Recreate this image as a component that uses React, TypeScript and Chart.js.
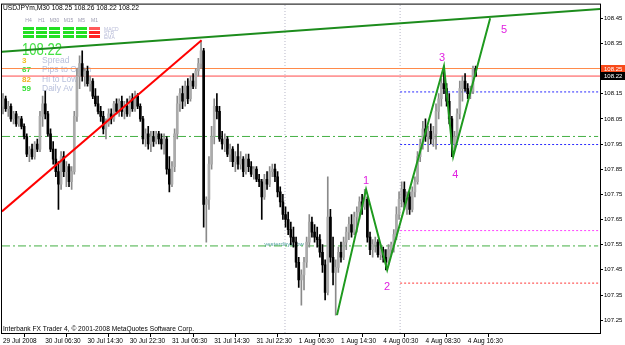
import { useEffect, useRef } from "react";
import { Chart, registerables } from "chart.js";
Chart.register(...registerables);

const symbolTitle = "USDJPYm,M30";
const copyright = "Interbank FX Trader 4, \u00a9 2001-2008 MetaQuotes Software Corp.";

const xTickIndex = [0, 16, 32, 48, 64, 80, 96, 112, 128, 144, 160, 176];
const xTickLabels = [
  "29 Jul 2008", "30 Jul 06:30", "30 Jul 14:30", "30 Jul 22:30", "31 Jul 06:30", "31 Jul 14:30",
  "31 Jul 22:30", "1 Aug 06:30", "1 Aug 14:30", "4 Aug 00:30", "4 Aug 08:30", "4 Aug 16:30",
];
const yTicks = [107.25, 107.35, 107.45, 107.55, 107.65, 107.75, 107.85, 107.95, 108.05, 108.15, 108.25, 108.35, 108.45];

const opens = [
  108.10,108.13,108.09,108.10,108.05,108.07,108.03,108.05,108.02,107.98,
  107.91,107.93,107.90,107.95,107.93,108.06,108.11,108.07,107.99,107.93,
  107.89,107.84,107.79,107.90,107.84,107.86,107.80,107.84,108.06,108.22,
  108.27,108.22,108.24,108.19,108.20,108.14,108.11,108.08,108.06,108.01,
  108.03,108.07,108.05,108.11,108.08,108.12,108.08,108.10,108.07,108.13,
  108.09,108.14,108.10,108.05,107.97,107.99,107.95,107.98,107.96,107.99,
  107.97,107.95,107.97,107.85,107.79,107.86,107.99,108.11,108.15,108.12,
  108.18,108.13,108.20,108.18,108.24,108.27,108.32,107.71,107.73,107.87,
  107.98,108.10,108.08,107.97,107.95,107.97,107.91,107.93,107.88,107.90,
  107.87,107.89,107.84,107.89,107.86,107.83,107.85,107.81,107.80,107.74,
  107.81,107.79,107.84,107.85,107.82,107.76,107.72,107.67,107.65,107.61,
  107.58,107.56,107.48,107.41,107.43,107.48,107.56,107.64,107.60,107.58,
  107.57,107.52,107.47,107.36,107.66,107.50,107.44,107.46,107.52,107.50,
  107.56,107.60,107.63,107.60,107.66,107.68,107.72,107.70,107.73,107.58,
  107.53,107.55,107.56,107.51,107.53,107.50,107.48,107.53,107.55,107.59,
  107.67,107.73,107.77,107.72,107.74,107.69,107.76,107.80,107.90,107.95,
  108.01,107.98,108.00,107.97,107.99,108.08,108.13,108.19,108.17,108.12,
  108.05,107.95,107.98,108.07,108.17,108.20,108.17,108.15,108.16,108.25,
];
const highs = [
  108.15,108.14,108.12,108.11,108.08,108.08,108.06,108.06,108.03,107.99,
  107.94,107.95,107.96,107.97,108.08,108.14,108.16,108.08,108.01,107.96,
  107.93,107.88,107.92,107.92,107.88,107.87,107.86,108.08,108.25,108.30,
  108.32,108.25,108.26,108.22,108.21,108.17,108.14,108.10,108.08,108.05,
  108.09,108.09,108.12,108.13,108.13,108.14,108.12,108.13,108.14,108.15,
  108.16,108.15,108.11,108.06,108.01,108.02,108.00,108.00,108.00,108.00,
  107.99,107.99,107.98,107.90,107.88,108.01,108.14,108.17,108.18,108.20,
  108.21,108.22,108.23,108.25,108.29,108.36,108.33,107.74,107.90,108.02,
  108.13,108.15,108.10,108.00,107.99,107.98,107.95,107.94,107.92,107.95,
  107.92,107.90,107.91,107.91,107.88,107.86,107.86,107.83,107.81,107.83,
  107.84,107.86,107.87,107.87,107.84,107.78,107.75,107.70,107.68,107.64,
  107.62,107.58,107.50,107.45,107.50,107.58,107.67,107.66,107.63,107.62,
  107.59,107.55,107.49,107.82,107.69,107.58,107.49,107.54,107.56,107.58,
  107.62,107.66,107.67,107.68,107.70,107.74,107.75,107.77,107.74,107.60,
  107.57,107.58,107.57,107.55,107.54,107.53,107.55,107.56,107.61,107.70,
  107.76,107.80,107.80,107.76,107.76,107.78,107.82,107.92,107.97,108.04,
  108.05,108.02,108.03,108.02,108.11,108.15,108.21,108.26,108.19,108.15,
  108.06,108.00,108.09,108.20,108.22,108.23,108.19,108.18,108.26,108.26,
];
const lows = [
  108.07,108.08,108.06,108.04,108.03,108.02,108.02,108.01,107.97,107.90,
  107.88,107.89,107.89,107.92,107.92,108.02,108.05,107.98,107.92,107.87,
  107.82,107.69,107.77,107.82,107.78,107.78,107.77,107.83,108.04,108.17,
  108.20,108.18,108.18,108.16,108.13,108.10,108.07,108.04,107.99,107.97,
  108.02,108.03,108.04,108.07,108.06,108.06,108.05,108.06,108.06,108.08,
  108.08,108.09,108.04,107.95,107.94,107.93,107.92,107.94,107.95,107.95,
  107.93,107.91,107.83,107.76,107.78,107.84,107.97,108.08,108.09,108.10,
  108.11,108.12,108.17,108.17,108.22,108.25,107.62,107.56,107.69,107.85,
  107.95,108.05,107.96,107.93,107.92,107.90,107.88,107.86,107.84,107.85,
  107.85,107.82,107.83,107.84,107.82,107.81,107.80,107.78,107.65,107.73,
  107.77,107.78,107.82,107.80,107.74,107.70,107.65,107.62,107.59,107.55,
  107.54,107.46,107.38,107.31,107.37,107.46,107.54,107.58,107.56,107.54,
  107.50,107.44,107.33,107.35,107.48,107.39,107.27,107.44,107.48,107.49,
  107.53,107.57,107.58,107.59,107.60,107.65,107.67,107.69,107.56,107.51,
  107.50,107.52,107.50,107.49,107.48,107.45,107.47,107.51,107.52,107.57,
  107.65,107.70,107.69,107.67,107.67,107.68,107.74,107.79,107.88,107.93,
  107.96,107.92,107.95,107.94,107.93,108.05,108.10,108.15,108.10,108.03,
  107.90,107.93,107.96,108.05,108.12,108.16,108.13,108.13,108.15,108.22,
];
const closes = [
  108.13,108.09,108.10,108.05,108.07,108.03,108.05,108.02,107.98,107.91,
  107.93,107.90,107.95,107.93,108.06,108.11,108.07,107.99,107.93,107.89,
  107.84,107.79,107.90,107.84,107.86,107.80,107.84,108.06,108.22,108.27,
  108.22,108.24,108.19,108.20,108.14,108.11,108.08,108.06,108.01,108.03,
  108.07,108.05,108.11,108.08,108.12,108.08,108.10,108.07,108.13,108.09,
  108.14,108.10,108.05,107.97,107.99,107.95,107.98,107.96,107.99,107.97,
  107.95,107.97,107.85,107.79,107.86,107.99,108.11,108.15,108.12,108.18,
  108.13,108.20,108.18,108.24,108.27,108.32,107.71,107.73,107.87,107.98,
  108.10,108.08,107.97,107.95,107.97,107.91,107.93,107.88,107.90,107.87,
  107.89,107.84,107.89,107.86,107.83,107.85,107.81,107.80,107.74,107.81,
  107.79,107.84,107.85,107.82,107.76,107.72,107.67,107.65,107.61,107.58,
  107.56,107.48,107.41,107.43,107.48,107.56,107.64,107.60,107.58,107.57,
  107.52,107.47,107.36,107.66,107.50,107.44,107.46,107.52,107.50,107.56,
  107.60,107.63,107.60,107.66,107.68,107.72,107.70,107.73,107.58,107.53,
  107.55,107.56,107.51,107.53,107.50,107.48,107.53,107.55,107.59,107.67,
  107.73,107.77,107.72,107.74,107.69,107.76,107.80,107.90,107.95,108.01,
  107.98,108.00,107.97,107.99,108.08,108.13,108.19,108.17,108.12,108.05,
  107.95,107.98,108.07,108.17,108.20,108.17,108.15,108.16,108.25,108.22,
];

const askPrice = 108.25;
const bidPrice = 108.22;

const zigzagIndex = [126.5, 137.5, 145.5, 167, 170.5, 184.5];
const zigzagPrice = [107.27, 107.77, 107.45, 108.26, 107.9, 108.45];
const zigzagLabels = ["1", "2", "3", "4", "5"];

const greenTrendIndex = [-0.4, 227];
const greenTrendPrice = [108.317, 108.487];
const redTrendIndex = [-0.4, 75.2];
const redTrendPrice = [107.682, 108.362];

const pivotLevels = [107.98, 107.545];
const blueLevels = [108.157, 107.948];
const magentaLevel = 107.606;
const salmonLevel = 107.397;
const levelStartIndex = 150.4;
const separatorIndex = [106.8, 150.4];
const pivotLabel = "yesterdays low";

const panelTimeframes = ["H4", "H1", "M30", "M15", "M5", "M1"];
const panelRows = ["MACD", "STR", "EMA"];
const panelSignals = [
  [1, 1, 1, 1, 1, 0],
  [1, 1, 1, 1, 1, 0],
  [1, 1, 1, 1, 1, 0],
];
const infoValues = ["3", "67", "82", "59"];
const infoLabels = ["Spread", "Pips to Open", "Hi to Low", "Daily Av"];

const Y_MIN = 107.199;
const Y_MAX = 108.504;
const X_MIN = -0.38;
const X_MAX = 226.1;
const FONT = '"Liberation Sans", Arial, sans-serif';

const mtPlugin = {
  id: "mtOverlay",
  beforeDatasetsDraw(chart: any) {
    const ctx = chart.ctx as CanvasRenderingContext2D;
    const xs = chart.scales.x;
    const ys = chart.scales.y;
    ctx.save();
    ctx.textBaseline = "alphabetic";
    ctx.textAlign = "left";
    ctx.fillStyle = "#000";
    ctx.font = `8px ${FONT}`;
    const last = closes.length - 1;
    const title = `${symbolTitle} ${opens[last].toFixed(2)} ${highs[last].toFixed(2)} ${lows[last].toFixed(2)} ${closes[last].toFixed(2)}`;
    ctx.fillText(title, 3, 10, 136);
    const colX = [23, 36, 49, 63, 76, 89];
    const rowY = [27, 31, 35];
    ctx.font = `5px ${FONT}`;
    ctx.fillStyle = "#9a9ab0";
    ctx.textAlign = "center";
    panelTimeframes.forEach((t, c) => ctx.fillText(t, colX[c] + 5.5, 22));
    panelRows.forEach((r, ri) => {
      panelSignals[ri].forEach((s, c) => {
        ctx.fillStyle = s ? "#22e022" : ri === 0 ? "#ff5a5a" : "#ff2222";
        ctx.fillRect(colX[c], rowY[ri], 11, 3);
      });
    });
    ctx.textAlign = "left";
    ctx.fillStyle = "#b8bcd8";
    panelRows.forEach((r, ri) => ctx.fillText(r, 104, rowY[ri] + 3.5));
    ctx.fillStyle = "#44e044";
    ctx.font = `16px ${FONT}`;
    ctx.fillText(bidPrice.toFixed(2), 22, 55, 40);
    const valColors = ["#f0c020", "#33dd33", "#f0b020", "#33dd33"];
    const baseY = [63, 72, 82, 91];
    infoValues.forEach((v, k) => {
      ctx.font = `bold 8px ${FONT}`;
      ctx.fillStyle = valColors[k];
      ctx.fillText(v, 22, baseY[k]);
      ctx.font = `8.5px ${FONT}`;
      ctx.fillStyle = "#b8c0dc";
      ctx.fillText(infoLabels[k], 42, baseY[k]);
    });
    ctx.font = `6px ${FONT}`;
    ctx.fillStyle = "#4a9c9c";
    ctx.fillText(pivotLabel, xs.getPixelForValue(98.9), ys.getPixelForValue(pivotLevels[1]) + 0.5, 48);
    ctx.fillStyle = "#000";
    ctx.font = `7px ${FONT}`;
    ctx.fillText(copyright, 3, 331, 191);
    ctx.restore();
  },
  afterDatasetsDraw(chart: any) {
    const ctx = chart.ctx as CanvasRenderingContext2D;
    const xs = chart.scales.x;
    const ys = chart.scales.y;
    const offs = [[0, -8], [0, 17], [-2, -8], [2, 18], [14, 12]];
    ctx.save();
    ctx.font = `11px ${FONT}`;
    ctx.fillStyle = "#e020e0";
    ctx.textAlign = "center";
    ctx.textBaseline = "middle";
    zigzagLabels.forEach((l, k) => {
      const px = xs.getPixelForValue(zigzagIndex[k + 1]);
      const py = ys.getPixelForValue(zigzagPrice[k + 1]);
      ctx.fillText(l, px + offs[k][0], py + offs[k][1]);
    });
    ctx.restore();
  },
  afterDraw(chart: any) {
    const ctx = chart.ctx as CanvasRenderingContext2D;
    const ys = chart.scales.y;
    const ca = chart.chartArea;
    ctx.save();
    ctx.strokeStyle = "#000";
    ctx.lineWidth = 1;
    ctx.strokeRect(ca.left - 0.5, ca.top - 0.5, ca.right - ca.left + 1, ca.bottom - ca.top + 1);
    const tag = (price: number, bg: string) => {
      const py = Math.round(ys.getPixelForValue(price));
      ctx.fillStyle = bg;
      ctx.fillRect(ca.right + 1, py - 4, 24, 8);
      ctx.fillStyle = "#fff";
      ctx.font = `6px ${FONT}`;
      ctx.textBaseline = "middle";
      ctx.textAlign = "left";
      ctx.fillText(price.toFixed(2), ca.right + 4, py + 0.5);
    };
    tag(askPrice, "#f84a1a");
    tag(bidPrice, "#000");
    ctx.restore();
  },
};

function hLine(price: number, from: number, to: number, color: string, dash: number[], width = 1, order = 4) {
  return {
    type: "line",
    data: [{ x: from, y: price }, { x: to, y: price }],
    borderColor: color,
    borderWidth: width,
    borderDash: dash,
    pointRadius: 0,
    clip: 0,
    order,
  };
}

export default function App() {
  const ref = useRef<HTMLCanvasElement>(null);
  useEffect(() => {
    document.body.style.margin = "0";
    const idx = closes.map((_, i) => i);
    const bull = idx.map((i) => closes[i] >= opens[i]);
    const datasets: any[] = [
      {
        type: "line",
        data: zigzagIndex.map((x, k) => ({ x, y: zigzagPrice[k] })),
        borderColor: "#1f9a1f", borderWidth: 2, pointRadius: 0, clip: 0, order: 0,
      },
      {
        type: "line",
        data: greenTrendIndex.map((x, k) => ({ x, y: greenTrendPrice[k] })),
        borderColor: "#1c8c1c", borderWidth: 2, pointRadius: 0, clip: 0, order: 0,
      },
      {
        type: "line",
        data: redTrendIndex.map((x, k) => ({ x, y: redTrendPrice[k] })),
        borderColor: "#ff0000", borderWidth: 2, pointRadius: 0, clip: 0, order: 0,
      },
      {
        type: "bar",
        data: idx.map((i) => ({ x: i, y: [opens[i], closes[i]] })),
        backgroundColor: idx.map((i) => (bull[i] ? "#ababab" : "#000000")),
        barThickness: 2, grouped: false, minBarLength: 1, borderWidth: 0, clip: 0, order: 1,
      },
      {
        type: "bar",
        data: idx.map((i) => ({ x: i, y: [lows[i], highs[i]] })),
        backgroundColor: idx.map((i) => (bull[i] ? "#8a8a8a" : "#000000")),
        barThickness: 1, grouped: false, borderWidth: 0, clip: 0, order: 2,
      },
      hLine(askPrice, X_MIN, X_MAX, "#ff8a4a", [], 1, 3),
      hLine(bidPrice, X_MIN, X_MAX, "#ff4a4a", [], 1, 3),
      ...pivotLevels.map((p) => hLine(p, X_MIN, 225.4, "#44b044", [8, 3, 2, 3])),
      ...blueLevels.map((p) => hLine(p, levelStartIndex, X_MAX, "#2a2aff", [2, 2])),
      hLine(magentaLevel, levelStartIndex, X_MAX, "#ff44ff", [2, 2]),
      hLine(salmonLevel, levelStartIndex, X_MAX, "#ff7a7a", [2, 2], 1.5),
      ...separatorIndex.map((sx) => ({
        type: "line",
        data: [{ x: sx, y: Y_MIN }, { x: sx, y: Y_MAX }],
        borderColor: "#b8b8c8", borderWidth: 1, borderDash: [1, 2], pointRadius: 0, clip: 0, order: 5,
      })),
    ];
    const chart = new Chart(ref.current as HTMLCanvasElement, {
      type: "bar",
      data: { datasets },
      options: {
        animation: false,
        responsive: false,
        devicePixelRatio: 1,
        events: [],
        layout: { padding: { left: 2, top: 1, right: 0, bottom: 0 } },
        plugins: { legend: { display: false }, tooltip: { enabled: false } },
        scales: {
          x: {
            type: "linear",
            min: X_MIN,
            max: X_MAX,
            offset: false,
            afterBuildTicks: (s: any) => { s.ticks = xTickIndex.map((v) => ({ value: v })); },
            afterFit: (s: any) => { s.height = 12; },
            ticks: {
              autoSkip: false, maxRotation: 0, minRotation: 0, align: "start", padding: 0,
              font: { size: 6.5, family: FONT }, color: "#000",
              callback: (_v: any, i: number) => xTickLabels[i],
            },
            grid: { drawOnChartArea: false, drawTicks: true, tickLength: 4, color: "#000" },
            border: { display: false },
          },
          y: {
            type: "linear",
            position: "right",
            min: Y_MIN,
            max: Y_MAX,
            afterBuildTicks: (s: any) => { s.ticks = yTicks.map((v) => ({ value: v })); },
            afterFit: (s: any) => { s.width = 25; },
            ticks: {
              autoSkip: false, padding: 1, font: { size: 6, family: FONT }, color: "#000",
              callback: (v: any) => Number(v).toFixed(2),
            },
            grid: { drawOnChartArea: false, drawTicks: true, tickLength: 3, color: "#000" },
            border: { display: false },
          },
        },
      } as any,
      plugins: [mtPlugin as any],
    });
    return () => chart.destroy();
  }, []);
  return (
    <div style={{ width: 625, height: 345, background: "#fff" }}>
      <canvas ref={ref} width={625} height={345} style={{ display: "block" }} />
    </div>
  );
}
